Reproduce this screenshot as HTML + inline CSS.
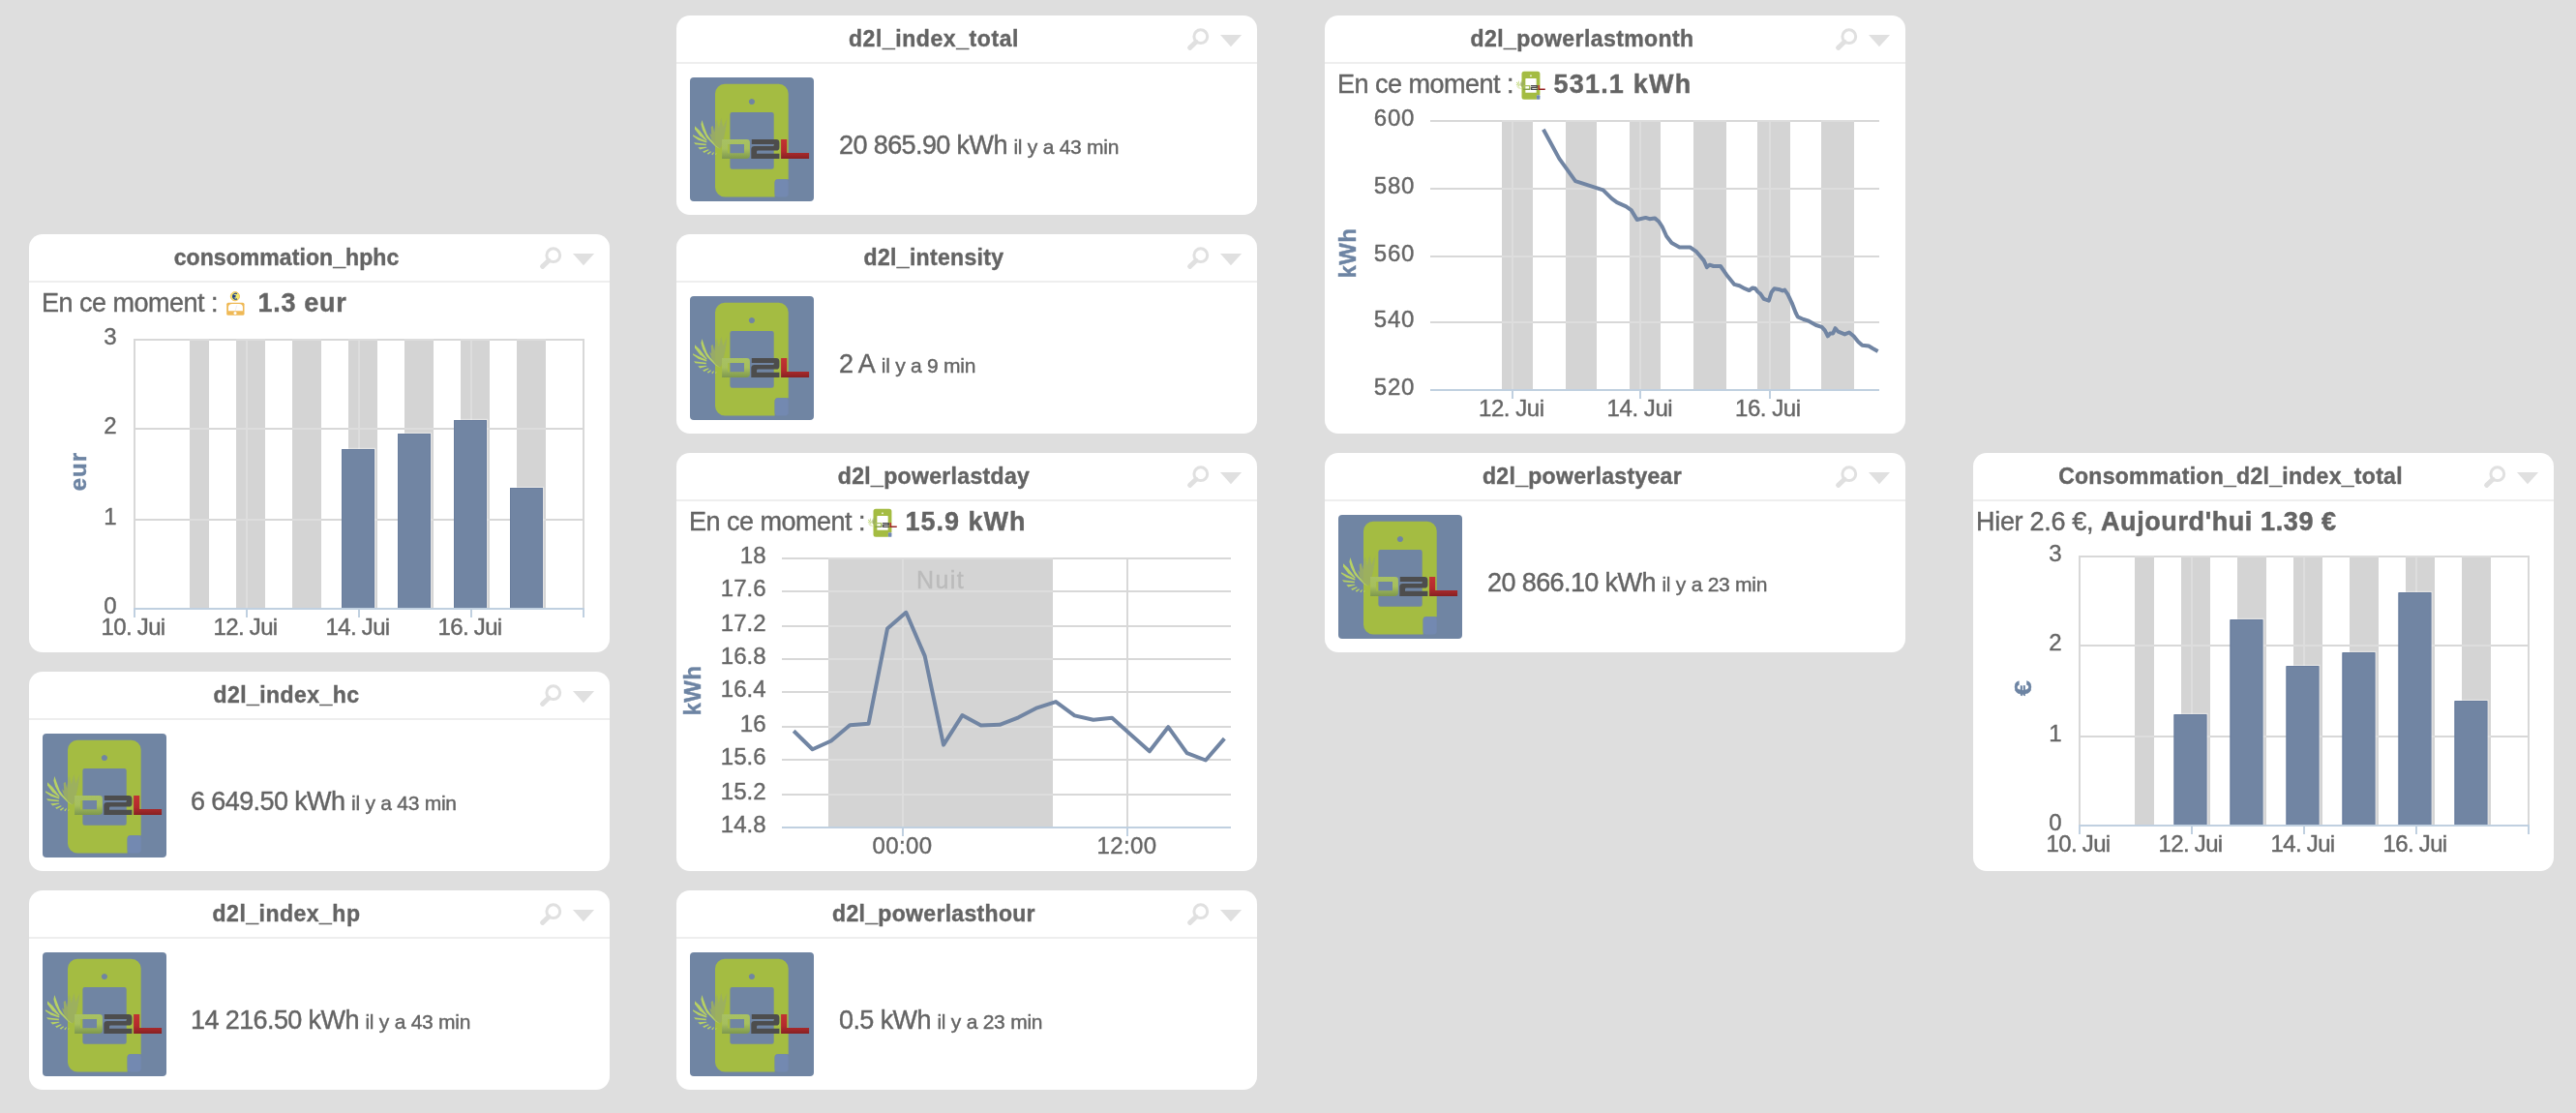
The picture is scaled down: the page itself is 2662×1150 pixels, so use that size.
<!DOCTYPE html>
<html lang="fr"><head><meta charset="utf-8"><title>Dashboard</title><style>
html,body{margin:0;padding:0}
body{width:2662px;height:1150px;background:#dedede;overflow:hidden;position:relative;font-family:"Liberation Sans",sans-serif;color:#646464}
.card{position:absolute;width:600px;background:#fff;border-radius:14px;overflow:hidden;will-change:transform}
.hd{position:absolute;left:0;top:0;width:600px;height:48px;border-bottom:2px solid #eeeeee}
.ti{position:absolute;left:0;top:0;width:532px;text-align:center;font-weight:bold;font-size:23px;line-height:49px;white-space:nowrap;-webkit-text-stroke:0.4px #646464}
.tl{position:absolute;left:500px;top:0}
.t{position:absolute;white-space:pre;-webkit-text-stroke:0.4px #646464}
.t b{-webkit-text-stroke:0.5px #646464}
.ago{font-size:21px;margin-left:1px}
.ic{position:absolute;left:14px;top:64px;width:128px;height:128px;background:#7085a3;border-radius:4px;overflow:hidden}
.ic svg{display:block}
.mi{position:absolute}
.ch{position:absolute;left:0;top:0}
.ch text{font-family:"Liberation Sans",sans-serif;stroke-width:0.4px}
</style></head><body>
<svg width="0" height="0" style="position:absolute">
<defs>
<linearGradient id="gD" x1="0" y1="0" x2="0" y2="1"><stop offset="0" stop-color="#a8c163"/><stop offset="0.5" stop-color="#a6bf5c"/><stop offset="1" stop-color="#7e984e"/></linearGradient>
<linearGradient id="gL" x1="0" y1="0" x2="0" y2="1"><stop offset="0" stop-color="#c33233"/><stop offset="0.6" stop-color="#b42b2d"/><stop offset="1" stop-color="#872123"/></linearGradient>

<symbol id="d2l" viewBox="0 0 128 128">
<path fill-rule="evenodd" fill="#a4bc42" d="M36 6.8H91.7a10 10 0 0 1 10 10V105.2H91a3.4 3.4 0 0 0 -3.4 3.4V123.4H36a10 10 0 0 1 -10 -10V16.8a10 10 0 0 1 10 -10ZM43.6 36a2.2 2.2 0 0 0 -2.2 2.2V92.5a2.2 2.2 0 0 0 2.2 2.2H84.5a2.2 2.2 0 0 0 2.2 -2.2V38.2a2.2 2.2 0 0 0 -2.2 -2.2ZM63.9 21.9a3.1 3.1 0 1 0 0.01 0Z"/>
<rect x="87.6" y="105.2" width="14.1" height="18.2" rx="3.4" fill="#7389b1"/>
<g fill="#b7d163">
<path d="M12.4 44.0 L11.4 48.6 L13.1 54.6 L17.2 62.2 L26.2 71.3 L30.8 73.8 L30.3 73.0 L21.2 63.7 L17.7 58.7 L14.6 50.6Z"/>
<path d="M5.0 50.3 L5.0 53.6 L10.1 60.2 L17.2 65.7 L17.4 64.5 L10.1 55.1Z"/>
<path d="M3.0 59.2 L3.1 60.8 L8.6 64.7 L17.2 67.5 L17.4 66.0 L9.1 62.2Z"/>
<path d="M4.0 67.2 L5.6 69.3 L16.7 70.2 L16.9 68.8Z"/>
<path d="M8.3 72.3 L10.3 74.4 L17.4 72.5 L17.2 71.8Z"/>
<path d="M13.1 76.6 L14.6 77.9 L19.8 74.9 L18.8 74.2Z"/>
<path d="M17.7 78.6 L19.0 79.7 L22.1 76.9 L21.2 76.3Z"/>
<path d="M22.2 79.3 L23.5 80.2 L25.1 77.6 L24.3 77.2Z"/>
<path d="M26.0 79.6 L26.8 79.9 L27.6 78.4 L27.0 78.1Z"/>
</g>
<path fill="#9bae62" fill-opacity="0.9" d="M21.7 51.1 L23.7 50.1 L25.2 56.6 L26.2 48.1 L27.5 43.0 L29.8 52.6 L32.3 42.0 L34.3 51.6 L38.4 42.0 L37.3 51.1 L35.3 61.2 L32.3 72.3 L30.3 73.3 L26.2 70.3 L22.2 64.2 L19.9 57.1 L22.2 59.2Z"/>
<path fill="url(#gD)" fill-rule="evenodd" d="M33.1 64H58.6a3.3 3.3 0 0 1 3.3 3.3V80.6a3.3 3.3 0 0 1 -3.3 3.3H33.1ZM39.1 69V78.3H56V69Z"/>
<path fill="#4d4d4d" d="M63.8 64H89a3.4 3.4 0 0 1 3.4 3.4V72.2a3.4 3.4 0 0 1 -3.4 3.4H70.4a1.4 1.4 0 0 0 -1.4 1.4V78.8H92.4V83.9H63.3V74.4a3.4 3.4 0 0 1 3.4 -3.4H85.6a1.2 1.2 0 0 0 1.2 -1.2V69H63.8Z"/>
<path fill="url(#gL)" d="M94.1 64H100.2V78.1H123.1V83.9H94.1Z"/>
</symbol>
<symbol id="euro" viewBox="0 0 32 32">
<rect x="6.2" y="16.7" width="18.3" height="13.1" rx="1.6" fill="#efb956"/>
<path d="M8 25.3V21.6Q8 18 12 18H19Q22.9 18 22.9 21.6V25.3Z" fill="#fff"/>
<circle cx="15" cy="27.5" r="1.5" fill="#fff"/>
<path d="M15.2 25L16.6 19.6" stroke="#e6e6ee" stroke-width="0.7"/>
<circle cx="14.9" cy="10.2" r="4.6" fill="#f3ea6c" stroke="#f1bd5c" stroke-width="0.9"/>
<path d="M17 7.6A3 3 0 1 0 17 12.8M12.3 9.6H15.6M12.3 10.9H15.4" fill="none" stroke="#1f3d8c" stroke-width="1.1"/>
</symbol>
<symbol id="tools" viewBox="0 0 100 48">
<circle cx="41.8" cy="21.7" r="6.9" fill="none" stroke="#e0e0e0" stroke-width="3"/>
<path d="M37 27.3L30.6 33.4" stroke="#e0e0e0" stroke-width="5" stroke-linecap="round" fill="none"/>
<path d="M62 20.1H84.1L73 32.2Z" fill="#e0e0e0"/>
</symbol>
</defs></svg>
<div class="card" style="left:30px;top:242px;height:432px"><div class="hd"><div class="ti" style="letter-spacing:0.07px">consommation_hphc</div><svg class="tl" width="100" height="48"><use href="#tools"/></svg></div><div class="t" style="left:13px;top:54.64px;font-size:27px;line-height:32px;letter-spacing:-0.5px;">En ce moment :</div><svg class="mi" style="left:198px;top:54px" width="32" height="32"><use href="#euro"/></svg><div class="t" style="left:236.5px;top:54.64px;font-size:27px;line-height:32px;font-weight:bold;letter-spacing:0.7px;">1.3 eur</div><svg class="ch" width="600" height="432" viewBox="30 242 600 432"><rect x="196" y="351" width="20" height="278" fill="#d4d4d4"/><rect x="244" y="351" width="30" height="278" fill="#d4d4d4"/><rect x="302" y="351" width="30" height="278" fill="#d4d4d4"/><rect x="360" y="351" width="30" height="278" fill="#d4d4d4"/><rect x="418" y="351" width="30" height="278" fill="#d4d4d4"/><rect x="476" y="351" width="30" height="278" fill="#d4d4d4"/><rect x="534" y="351" width="30" height="278" fill="#d4d4d4"/><rect x="138" y="350" width="466" height="2" fill="#d8d8d8"/><rect x="196" y="350" width="20" height="2" fill="#dddddd"/><rect x="244" y="350" width="30" height="2" fill="#dddddd"/><rect x="302" y="350" width="30" height="2" fill="#dddddd"/><rect x="360" y="350" width="30" height="2" fill="#dddddd"/><rect x="418" y="350" width="30" height="2" fill="#dddddd"/><rect x="476" y="350" width="30" height="2" fill="#dddddd"/><rect x="534" y="350" width="30" height="2" fill="#dddddd"/><rect x="138" y="442" width="466" height="2" fill="#d8d8d8"/><rect x="196" y="442" width="20" height="2" fill="#dddddd"/><rect x="244" y="442" width="30" height="2" fill="#dddddd"/><rect x="302" y="442" width="30" height="2" fill="#dddddd"/><rect x="360" y="442" width="30" height="2" fill="#dddddd"/><rect x="418" y="442" width="30" height="2" fill="#dddddd"/><rect x="476" y="442" width="30" height="2" fill="#dddddd"/><rect x="534" y="442" width="30" height="2" fill="#dddddd"/><rect x="138" y="536" width="466" height="2" fill="#d8d8d8"/><rect x="196" y="536" width="20" height="2" fill="#dddddd"/><rect x="244" y="536" width="30" height="2" fill="#dddddd"/><rect x="302" y="536" width="30" height="2" fill="#dddddd"/><rect x="360" y="536" width="30" height="2" fill="#dddddd"/><rect x="418" y="536" width="30" height="2" fill="#dddddd"/><rect x="476" y="536" width="30" height="2" fill="#dddddd"/><rect x="534" y="536" width="30" height="2" fill="#dddddd"/><rect x="138" y="351" width="2" height="278" fill="#d8d8d8"/><rect x="254" y="351" width="2" height="278" fill="#dddddd"/><rect x="370" y="351" width="2" height="278" fill="#dddddd"/><rect x="486" y="351" width="2" height="278" fill="#dddddd"/><rect x="602" y="351" width="2" height="278" fill="#d8d8d8"/><rect x="353" y="464" width="34" height="165" fill="#7185a3"/><path d="M353.5 629V464.5H386.5V629" fill="none" stroke="#697d9d" stroke-width="1"/><path d="M353 463.4H387.6V628" fill="none" stroke="#ffffff" stroke-opacity="0.35" stroke-width="1.2"/><rect x="411" y="448" width="34" height="181" fill="#7185a3"/><path d="M411.5 629V448.5H444.5V629" fill="none" stroke="#697d9d" stroke-width="1"/><path d="M411 447.4H445.6V628" fill="none" stroke="#ffffff" stroke-opacity="0.35" stroke-width="1.2"/><rect x="469" y="434" width="34" height="195" fill="#7185a3"/><path d="M469.5 629V434.5H502.5V629" fill="none" stroke="#697d9d" stroke-width="1"/><path d="M469 433.4H503.6V628" fill="none" stroke="#ffffff" stroke-opacity="0.35" stroke-width="1.2"/><rect x="527" y="504" width="34" height="125" fill="#7185a3"/><path d="M527.5 629V504.5H560.5V629" fill="none" stroke="#697d9d" stroke-width="1"/><path d="M527 503.4H561.6V628" fill="none" stroke="#ffffff" stroke-opacity="0.35" stroke-width="1.2"/><rect x="138" y="628" width="466" height="2" fill="#c0d0e0"/><rect x="138" y="628" width="2" height="10" fill="#c0d0e0"/><rect x="254" y="628" width="2" height="10" fill="#c0d0e0"/><rect x="370" y="628" width="2" height="10" fill="#c0d0e0"/><rect x="486" y="628" width="2" height="10" fill="#c0d0e0"/><rect x="602" y="628" width="2" height="10" fill="#c0d0e0"/><text x="120.5" y="356.3" text-anchor="end" font-size="24" fill="#666666" stroke="#666666">3</text><text x="120.5" y="448.3" text-anchor="end" font-size="24" fill="#666666" stroke="#666666">2</text><text x="120.5" y="542.3" text-anchor="end" font-size="24" fill="#666666" stroke="#666666">1</text><text x="120.5" y="634.3" text-anchor="end" font-size="24" fill="#666666" stroke="#666666">0</text><text x="137.5" y="656" text-anchor="middle" font-size="24" fill="#666666" stroke="#666666" letter-spacing="-0.7">10. Jui</text><text x="253.5" y="656" text-anchor="middle" font-size="24" fill="#666666" stroke="#666666" letter-spacing="-0.7">12. Jui</text><text x="369.5" y="656" text-anchor="middle" font-size="24" fill="#666666" stroke="#666666" letter-spacing="-0.7">14. Jui</text><text x="485.5" y="656" text-anchor="middle" font-size="24" fill="#666666" stroke="#666666" letter-spacing="-0.7">16. Jui</text><text x="88.6" y="487" text-anchor="middle" font-size="24" fill="#6d84a3" stroke="#6d84a3" font-weight="bold" letter-spacing="1.1" transform="rotate(-90 88.6 487)">eur</text></svg></div>
<div class="card" style="left:30px;top:694px;height:206px"><div class="hd"><div class="ti" style="letter-spacing:0.46px">d2l_index_hc</div><svg class="tl" width="100" height="48"><use href="#tools"/></svg></div><div class="ic"><svg width="128" height="128"><use href="#d2l"/></svg></div><div class="t" style="left:167px;top:117.64px;font-size:27px;line-height:32px;letter-spacing:-0.6px;">6 649.50 kWh<span class="ago" style="letter-spacing:-0.25px"> il y a 43 min</span></div></div>
<div class="card" style="left:30px;top:920px;height:206px"><div class="hd"><div class="ti" style="letter-spacing:0.49px">d2l_index_hp</div><svg class="tl" width="100" height="48"><use href="#tools"/></svg></div><div class="ic"><svg width="128" height="128"><use href="#d2l"/></svg></div><div class="t" style="left:167px;top:117.64px;font-size:27px;line-height:32px;letter-spacing:-0.6px;">14 216.50 kWh<span class="ago" style="letter-spacing:-0.25px"> il y a 43 min</span></div></div>
<div class="card" style="left:699px;top:16px;height:206px"><div class="hd"><div class="ti" style="letter-spacing:0.58px">d2l_index_total</div><svg class="tl" width="100" height="48"><use href="#tools"/></svg></div><div class="ic"><svg width="128" height="128"><use href="#d2l"/></svg></div><div class="t" style="left:168px;top:117.64px;font-size:27px;line-height:32px;letter-spacing:-0.6px;">20 865.90 kWh<span class="ago" style="letter-spacing:-0.25px"> il y a 43 min</span></div></div>
<div class="card" style="left:699px;top:242px;height:206px"><div class="hd"><div class="ti" style="letter-spacing:0.32px">d2l_intensity</div><svg class="tl" width="100" height="48"><use href="#tools"/></svg></div><div class="ic"><svg width="128" height="128"><use href="#d2l"/></svg></div><div class="t" style="left:168px;top:117.64px;font-size:27px;line-height:32px;letter-spacing:-0.6px;">2 A<span class="ago" style="letter-spacing:-0.25px"> il y a 9 min</span></div></div>
<div class="card" style="left:699px;top:468px;height:432px"><div class="hd"><div class="ti" style="letter-spacing:0.33px">d2l_powerlastday</div><svg class="tl" width="100" height="48"><use href="#tools"/></svg></div><div class="t" style="left:13px;top:54.64px;font-size:27px;line-height:32px;letter-spacing:-0.5px;">En ce moment :</div><svg class="mi" style="left:197px;top:56px" width="32" height="32"><use href="#d2l"/></svg><div class="t" style="left:236.5px;top:54.64px;font-size:27px;line-height:32px;font-weight:bold;letter-spacing:1px;">15.9 kWh</div><svg class="ch" width="600" height="432" viewBox="699 468 600 432"><rect x="856" y="577" width="232" height="278" fill="#d4d4d4"/><rect x="808" y="576" width="464" height="2" fill="#d8d8d8"/><rect x="856" y="576" width="232" height="2" fill="#dddddd"/><rect x="808" y="610" width="464" height="2" fill="#d8d8d8"/><rect x="856" y="610" width="232" height="2" fill="#dddddd"/><rect x="808" y="646" width="464" height="2" fill="#d8d8d8"/><rect x="856" y="646" width="232" height="2" fill="#dddddd"/><rect x="808" y="680" width="464" height="2" fill="#d8d8d8"/><rect x="856" y="680" width="232" height="2" fill="#dddddd"/><rect x="808" y="714" width="464" height="2" fill="#d8d8d8"/><rect x="856" y="714" width="232" height="2" fill="#dddddd"/><rect x="808" y="750" width="464" height="2" fill="#d8d8d8"/><rect x="856" y="750" width="232" height="2" fill="#dddddd"/><rect x="808" y="784" width="464" height="2" fill="#d8d8d8"/><rect x="856" y="784" width="232" height="2" fill="#dddddd"/><rect x="808" y="820" width="464" height="2" fill="#d8d8d8"/><rect x="856" y="820" width="232" height="2" fill="#dddddd"/><rect x="932" y="577" width="2" height="278" fill="#dddddd"/><rect x="1164" y="577" width="2" height="278" fill="#d8d8d8"/><text x="972" y="608" text-anchor="middle" font-size="25" fill="#bbbbbb" stroke="#bbbbbb" letter-spacing="1.4">Nuit</text><polyline points="820.2,755.3 839.6,774.2 858.9,765.5 878.3,749.3 897.6,747.7 917,649.6 936.3,632.8 955.7,677.9 975,769.6 994.4,739.1 1013.7,749.6 1033.1,748.8 1052.4,741.3 1071.8,731.3 1091.1,725.1 1110.5,739.4 1129.8,743.7 1149.2,741.8 1168.5,759 1187.9,776.3 1207.2,751.2 1226.6,778.2 1245.9,785.5 1265.3,763.1" fill="none" stroke="#7185a3" stroke-width="4" stroke-linejoin="round" stroke-linecap="butt"/><rect x="808" y="854" width="464" height="2" fill="#c0d0e0"/><rect x="932" y="854" width="2" height="10" fill="#c0d0e0"/><rect x="1164" y="854" width="2" height="10" fill="#c0d0e0"/><text x="791.5" y="582.3" text-anchor="end" font-size="24" fill="#666666" stroke="#666666">18</text><text x="791.5" y="616.3" text-anchor="end" font-size="24" fill="#666666" stroke="#666666">17.6</text><text x="791.5" y="652.3" text-anchor="end" font-size="24" fill="#666666" stroke="#666666">17.2</text><text x="791.5" y="686.3" text-anchor="end" font-size="24" fill="#666666" stroke="#666666">16.8</text><text x="791.5" y="720.3" text-anchor="end" font-size="24" fill="#666666" stroke="#666666">16.4</text><text x="791.5" y="756.3" text-anchor="end" font-size="24" fill="#666666" stroke="#666666">16</text><text x="791.5" y="790.3" text-anchor="end" font-size="24" fill="#666666" stroke="#666666">15.6</text><text x="791.5" y="826.3" text-anchor="end" font-size="24" fill="#666666" stroke="#666666">15.2</text><text x="791.5" y="860.3" text-anchor="end" font-size="24" fill="#666666" stroke="#666666">14.8</text><text x="932.5" y="882" text-anchor="middle" font-size="24" fill="#666666" stroke="#666666" letter-spacing="0.4">00:00</text><text x="1164.5" y="882" text-anchor="middle" font-size="24" fill="#666666" stroke="#666666" letter-spacing="0.4">12:00</text><text x="723.9" y="713.5" text-anchor="middle" font-size="24" fill="#6d84a3" stroke="#6d84a3" font-weight="bold" letter-spacing="0.4" transform="rotate(-90 723.9 713.5)">kWh</text></svg></div>
<div class="card" style="left:699px;top:920px;height:206px"><div class="hd"><div class="ti" style="letter-spacing:0.31px">d2l_powerlasthour</div><svg class="tl" width="100" height="48"><use href="#tools"/></svg></div><div class="ic"><svg width="128" height="128"><use href="#d2l"/></svg></div><div class="t" style="left:168px;top:117.64px;font-size:27px;line-height:32px;letter-spacing:-0.6px;">0.5 kWh<span class="ago" style="letter-spacing:-0.25px"> il y a 23 min</span></div></div>
<div class="card" style="left:1369px;top:16px;height:432px"><div class="hd"><div class="ti" style="letter-spacing:0.41px">d2l_powerlastmonth</div><svg class="tl" width="100" height="48"><use href="#tools"/></svg></div><div class="t" style="left:13px;top:54.64px;font-size:27px;line-height:32px;letter-spacing:-0.5px;">En ce moment :</div><svg class="mi" style="left:197px;top:56px" width="32" height="32"><use href="#d2l"/></svg><div class="t" style="left:236.5px;top:54.64px;font-size:27px;line-height:32px;font-weight:bold;letter-spacing:1.2px;">531.1 kWh</div><svg class="ch" width="600" height="432" viewBox="1369 16 600 432"><rect x="1552" y="125" width="32" height="278" fill="#d4d4d4"/><rect x="1618" y="125" width="32" height="278" fill="#d4d4d4"/><rect x="1684" y="125" width="32" height="278" fill="#d4d4d4"/><rect x="1750" y="125" width="34" height="278" fill="#d4d4d4"/><rect x="1816" y="125" width="34" height="278" fill="#d4d4d4"/><rect x="1882" y="125" width="34" height="278" fill="#d4d4d4"/><rect x="1478" y="124" width="464" height="2" fill="#d8d8d8"/><rect x="1552" y="124" width="32" height="2" fill="#dddddd"/><rect x="1618" y="124" width="32" height="2" fill="#dddddd"/><rect x="1684" y="124" width="32" height="2" fill="#dddddd"/><rect x="1750" y="124" width="34" height="2" fill="#dddddd"/><rect x="1816" y="124" width="34" height="2" fill="#dddddd"/><rect x="1882" y="124" width="34" height="2" fill="#dddddd"/><rect x="1478" y="194" width="464" height="2" fill="#d8d8d8"/><rect x="1552" y="194" width="32" height="2" fill="#dddddd"/><rect x="1618" y="194" width="32" height="2" fill="#dddddd"/><rect x="1684" y="194" width="32" height="2" fill="#dddddd"/><rect x="1750" y="194" width="34" height="2" fill="#dddddd"/><rect x="1816" y="194" width="34" height="2" fill="#dddddd"/><rect x="1882" y="194" width="34" height="2" fill="#dddddd"/><rect x="1478" y="264" width="464" height="2" fill="#d8d8d8"/><rect x="1552" y="264" width="32" height="2" fill="#dddddd"/><rect x="1618" y="264" width="32" height="2" fill="#dddddd"/><rect x="1684" y="264" width="32" height="2" fill="#dddddd"/><rect x="1750" y="264" width="34" height="2" fill="#dddddd"/><rect x="1816" y="264" width="34" height="2" fill="#dddddd"/><rect x="1882" y="264" width="34" height="2" fill="#dddddd"/><rect x="1478" y="332" width="464" height="2" fill="#d8d8d8"/><rect x="1552" y="332" width="32" height="2" fill="#dddddd"/><rect x="1618" y="332" width="32" height="2" fill="#dddddd"/><rect x="1684" y="332" width="32" height="2" fill="#dddddd"/><rect x="1750" y="332" width="34" height="2" fill="#dddddd"/><rect x="1816" y="332" width="34" height="2" fill="#dddddd"/><rect x="1882" y="332" width="34" height="2" fill="#dddddd"/><rect x="1562" y="125" width="2" height="278" fill="#dddddd"/><rect x="1694" y="125" width="2" height="278" fill="#dddddd"/><rect x="1828" y="125" width="2" height="278" fill="#dddddd"/><polyline points="1594.9,133.7 1611.3,163.9 1628,187.1 1656.6,196.3 1665.5,205.2 1670.9,209.2 1680.4,213.3 1685.7,217.1 1691.7,227 1700.6,224.9 1704.6,226.2 1710,225.4 1714,228.7 1717.6,234 1722.1,244 1727.5,251 1735.6,255.4 1746.4,255.4 1753.2,260.2 1760.7,269.1 1763.9,276.1 1766.6,273.7 1770.7,275 1778,275 1784.2,283.9 1792.3,293.9 1797.6,295.3 1803,298.2 1807.6,300.1 1811.1,297.4 1813.8,298 1816.5,301.5 1819.2,303.6 1822.7,308.8 1827.9,310.6 1830.6,302 1833.5,298.2 1839.4,299.3 1842.1,300.4 1844.3,299.6 1847.5,304.2 1851.6,312.8 1855.6,323 1857.8,327.4 1863.7,330 1869.1,331.7 1876.7,336 1882.6,337.9 1885.8,341.4 1888.8,347.3 1891.2,344.6 1894.2,344.4 1896.6,339.2 1899.6,342.7 1906.3,345.4 1910.9,343.5 1915.5,347.3 1920.4,353.3 1924.4,356.8 1931.1,357.6 1935.2,360 1940.6,363" fill="none" stroke="#7185a3" stroke-width="4" stroke-linejoin="round" stroke-linecap="butt"/><rect x="1478" y="402" width="464" height="2" fill="#c0d0e0"/><rect x="1562" y="402" width="2" height="10" fill="#c0d0e0"/><rect x="1694" y="402" width="2" height="10" fill="#c0d0e0"/><rect x="1828" y="402" width="2" height="10" fill="#c0d0e0"/><text x="1462" y="130.3" text-anchor="end" font-size="24" fill="#666666" stroke="#666666" letter-spacing="0.7">600</text><text x="1462" y="200.3" text-anchor="end" font-size="24" fill="#666666" stroke="#666666" letter-spacing="0.7">580</text><text x="1462" y="270.3" text-anchor="end" font-size="24" fill="#666666" stroke="#666666" letter-spacing="0.7">560</text><text x="1462" y="338.3" text-anchor="end" font-size="24" fill="#666666" stroke="#666666" letter-spacing="0.7">540</text><text x="1462" y="408.3" text-anchor="end" font-size="24" fill="#666666" stroke="#666666" letter-spacing="0.7">520</text><text x="1561.8" y="430" text-anchor="middle" font-size="24" fill="#666666" stroke="#666666" letter-spacing="-0.45">12. Jui</text><text x="1694.4" y="430" text-anchor="middle" font-size="24" fill="#666666" stroke="#666666" letter-spacing="-0.45">14. Jui</text><text x="1826.8" y="430" text-anchor="middle" font-size="24" fill="#666666" stroke="#666666" letter-spacing="-0.45">16. Jui</text><text x="1400.6" y="261.5" text-anchor="middle" font-size="24" fill="#6d84a3" stroke="#6d84a3" font-weight="bold" letter-spacing="0.4" transform="rotate(-90 1400.6 261.5)">kWh</text></svg></div>
<div class="card" style="left:1369px;top:468px;height:206px"><div class="hd"><div class="ti" style="letter-spacing:0.31px">d2l_powerlastyear</div><svg class="tl" width="100" height="48"><use href="#tools"/></svg></div><div class="ic"><svg width="128" height="128"><use href="#d2l"/></svg></div><div class="t" style="left:168px;top:117.64px;font-size:27px;line-height:32px;letter-spacing:-0.6px;">20 866.10 kWh<span class="ago" style="letter-spacing:-0.25px"> il y a 23 min</span></div></div>
<div class="card" style="left:2039px;top:468px;height:432px"><div class="hd"><div class="ti" style="letter-spacing:0.29px">Consommation_d2l_index_total</div><svg class="tl" width="100" height="48"><use href="#tools"/></svg></div><div class="t" style="left:3px;top:54.64px;font-size:27px;line-height:32px;letter-spacing:-0.3px;">Hier 2.6 €, <b style="letter-spacing:0.6px;margin-left:0.5px">Aujourd'hui 1.39 €</b></div><svg class="ch" width="600" height="432" viewBox="2039 468 600 432"><rect x="2206" y="575" width="20" height="278" fill="#d4d4d4"/><rect x="2254" y="575" width="30" height="278" fill="#d4d4d4"/><rect x="2312" y="575" width="30" height="278" fill="#d4d4d4"/><rect x="2370" y="575" width="30" height="278" fill="#d4d4d4"/><rect x="2428" y="575" width="30" height="278" fill="#d4d4d4"/><rect x="2486" y="575" width="30" height="278" fill="#d4d4d4"/><rect x="2544" y="575" width="30" height="278" fill="#d4d4d4"/><rect x="2148" y="574" width="466" height="2" fill="#d8d8d8"/><rect x="2206" y="574" width="20" height="2" fill="#dddddd"/><rect x="2254" y="574" width="30" height="2" fill="#dddddd"/><rect x="2312" y="574" width="30" height="2" fill="#dddddd"/><rect x="2370" y="574" width="30" height="2" fill="#dddddd"/><rect x="2428" y="574" width="30" height="2" fill="#dddddd"/><rect x="2486" y="574" width="30" height="2" fill="#dddddd"/><rect x="2544" y="574" width="30" height="2" fill="#dddddd"/><rect x="2148" y="666" width="466" height="2" fill="#d8d8d8"/><rect x="2206" y="666" width="20" height="2" fill="#dddddd"/><rect x="2254" y="666" width="30" height="2" fill="#dddddd"/><rect x="2312" y="666" width="30" height="2" fill="#dddddd"/><rect x="2370" y="666" width="30" height="2" fill="#dddddd"/><rect x="2428" y="666" width="30" height="2" fill="#dddddd"/><rect x="2486" y="666" width="30" height="2" fill="#dddddd"/><rect x="2544" y="666" width="30" height="2" fill="#dddddd"/><rect x="2148" y="760" width="466" height="2" fill="#d8d8d8"/><rect x="2206" y="760" width="20" height="2" fill="#dddddd"/><rect x="2254" y="760" width="30" height="2" fill="#dddddd"/><rect x="2312" y="760" width="30" height="2" fill="#dddddd"/><rect x="2370" y="760" width="30" height="2" fill="#dddddd"/><rect x="2428" y="760" width="30" height="2" fill="#dddddd"/><rect x="2486" y="760" width="30" height="2" fill="#dddddd"/><rect x="2544" y="760" width="30" height="2" fill="#dddddd"/><rect x="2148" y="575" width="2" height="278" fill="#d8d8d8"/><rect x="2264" y="575" width="2" height="278" fill="#dddddd"/><rect x="2380" y="575" width="2" height="278" fill="#dddddd"/><rect x="2496" y="575" width="2" height="278" fill="#dddddd"/><rect x="2612" y="575" width="2" height="278" fill="#d8d8d8"/><rect x="2246.5" y="738" width="34" height="115" fill="#7185a3"/><path d="M2247 853V738.5H2280V853" fill="none" stroke="#697d9d" stroke-width="1"/><path d="M2246.5 737.4H2281.1V852" fill="none" stroke="#ffffff" stroke-opacity="0.35" stroke-width="1.2"/><rect x="2304.5" y="640" width="34" height="213" fill="#7185a3"/><path d="M2305 853V640.5H2338V853" fill="none" stroke="#697d9d" stroke-width="1"/><path d="M2304.5 639.4H2339.1V852" fill="none" stroke="#ffffff" stroke-opacity="0.35" stroke-width="1.2"/><rect x="2362.5" y="688" width="34" height="165" fill="#7185a3"/><path d="M2363 853V688.5H2396V853" fill="none" stroke="#697d9d" stroke-width="1"/><path d="M2362.5 687.4H2397.1V852" fill="none" stroke="#ffffff" stroke-opacity="0.35" stroke-width="1.2"/><rect x="2420.5" y="674" width="34" height="179" fill="#7185a3"/><path d="M2421 853V674.5H2454V853" fill="none" stroke="#697d9d" stroke-width="1"/><path d="M2420.5 673.4H2455.1V852" fill="none" stroke="#ffffff" stroke-opacity="0.35" stroke-width="1.2"/><rect x="2478.5" y="612" width="34" height="241" fill="#7185a3"/><path d="M2479 853V612.5H2512V853" fill="none" stroke="#697d9d" stroke-width="1"/><path d="M2478.5 611.4H2513.1V852" fill="none" stroke="#ffffff" stroke-opacity="0.35" stroke-width="1.2"/><rect x="2536.5" y="724" width="34" height="129" fill="#7185a3"/><path d="M2537 853V724.5H2570V853" fill="none" stroke="#697d9d" stroke-width="1"/><path d="M2536.5 723.4H2571.1V852" fill="none" stroke="#ffffff" stroke-opacity="0.35" stroke-width="1.2"/><rect x="2148" y="852" width="466" height="2" fill="#c0d0e0"/><rect x="2148" y="852" width="2" height="10" fill="#c0d0e0"/><rect x="2264" y="852" width="2" height="10" fill="#c0d0e0"/><rect x="2380" y="852" width="2" height="10" fill="#c0d0e0"/><rect x="2496" y="852" width="2" height="10" fill="#c0d0e0"/><rect x="2612" y="852" width="2" height="10" fill="#c0d0e0"/><text x="2130.5" y="580.3" text-anchor="end" font-size="24" fill="#666666" stroke="#666666">3</text><text x="2130.5" y="672.3" text-anchor="end" font-size="24" fill="#666666" stroke="#666666">2</text><text x="2130.5" y="766.3" text-anchor="end" font-size="24" fill="#666666" stroke="#666666">1</text><text x="2130.5" y="858.3" text-anchor="end" font-size="24" fill="#666666" stroke="#666666">0</text><text x="2147.5" y="880" text-anchor="middle" font-size="24" fill="#666666" stroke="#666666" letter-spacing="-0.7">10. Jui</text><text x="2263.5" y="880" text-anchor="middle" font-size="24" fill="#666666" stroke="#666666" letter-spacing="-0.7">12. Jui</text><text x="2379.5" y="880" text-anchor="middle" font-size="24" fill="#666666" stroke="#666666" letter-spacing="-0.7">14. Jui</text><text x="2495.5" y="880" text-anchor="middle" font-size="24" fill="#666666" stroke="#666666" letter-spacing="-0.7">16. Jui</text><text x="2099" y="711" text-anchor="middle" font-size="24" font-weight="bold" fill="#6d84a3" stroke="#6d84a3" textLength="15.9" lengthAdjust="spacingAndGlyphs" transform="rotate(-90 2099 711)">€</text></svg></div>
</body></html>
